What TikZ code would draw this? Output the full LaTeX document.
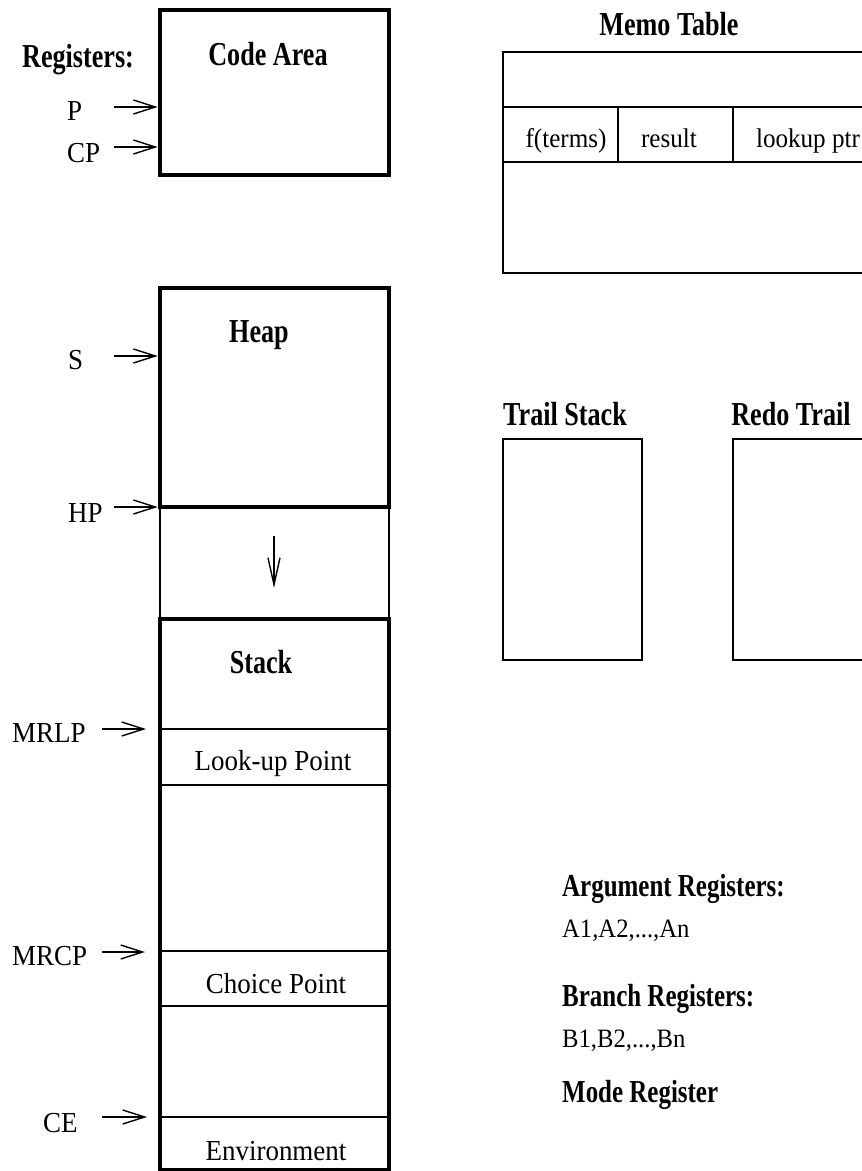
\documentclass[tikz,border=0pt]{standalone}
\usepackage{fontspec}
\setmainfont{Liberation Serif}[FakeStretch=0.93]
\newfontfamily\headfont{Liberation Serif}[FakeStretch=0.78]
\usetikzlibrary{
  arrows.meta
}

\begin{document}
\begin{tikzpicture}[
  x=1pt,
  y=-1pt,
  area/.style={
    draw,
    line width=4.5pt,
    minimum width=229pt,
    inner sep=0pt,
    outer sep=0pt
  },
  tbl/.style={
    draw,
    line width=1.7pt,
    inner sep=0pt,
    outer sep=0pt
  },
  divider/.style={
    line width=1.7pt
  },
  ptr/.style={
    -{Straight Barb[length=22pt,width=14pt]},
    line width=1.4pt
  },
  growarrow/.style={
    -{Straight Barb[length=27pt,width=12pt]},
    line width=1.4pt
  },
  reg/.style={
    font=\fontsize{29}{34}\selectfont,
    inner sep=0pt,
    anchor=base west
  },
  slot/.style={
    font=\fontsize{29}{34}\selectfont,
    inner sep=0pt,
    anchor=base
  },
  cell/.style={
    font=\fontsize{27}{32}\selectfont,
    inner sep=0pt,
    anchor=base
  },
  head/.style={
    font=\headfont\bfseries\fontsize{33.5}{38}\selectfont,
    inner sep=0pt,
    anchor=base
  },
  note/.style={
    font=\fontsize{26.5}{31}\selectfont,
    inner sep=0pt,
    anchor=base west
  },
  notehead/.style={
    font=\headfont\bfseries\fontsize{32}{36}\selectfont,
    inner sep=0pt,
    anchor=base west
  }
]

\path[use as bounding box] (0,0) rectangle (862,1171);
\clip (0,0) rectangle (862,1171);

% --- memory areas ---
\node[area,minimum height=165pt] (code) at (274.5,92.5) {};
\node[area,minimum height=219pt] (heap) at (274.5,397.5) {};
\node[area,minimum height=551pt] (stack) at (274.5,894.5) {};

\node[head] (codeT) at (268,65) {Code Area};
\node[head] (heapT) at (259,342) {Heap};
\node[head] (stackT) at (261,673) {Stack};
\node[head,anchor=base west] (regT) at (22,67) {Registers:};

% free space between heap and stack
\draw[divider] (heap.south west) -- (stack.north west);
\draw[divider] (heap.south east) -- (stack.north east);
\coordinate (growTop) at (274,536);
\coordinate (growBot) at (274,588);
\draw[growarrow] (growTop) -- (growBot);

% --- stack frames ---
\foreach \yy in {729,785,951,1006,1117}
  \draw[divider] (stack.west |- 0,\yy) -- (stack.east |- 0,\yy);

\node[slot] (lookup) at (273,770) {Look-up Point};
\node[slot] (choice) at (276,993) {Choice Point};
\node[slot] (env) at (276,1160) {Environment};

% --- registers pointing into memory ---
\node[reg] (pReg) at (67,120) {P};
\node[reg] (cpReg) at (67,162) {CP};
\node[reg] (sReg) at (68,369) {S};
\node[reg] (hpReg) at (68,522) {HP};
\node[reg] (mrlpReg) at (12,742) {MRLP};
\node[reg] (mrcpReg) at (12,965) {MRCP};
\node[reg] (ceReg) at (43,1132) {CE};

\coordinate (pTail) at (114,107);
\coordinate (cpTail) at (114,147);
\coordinate (sTail) at (114,356);
\coordinate (hpTail) at (114,507);
\coordinate (mrlpTail) at (102,729);
\coordinate (mrcpTail) at (102,952);
\coordinate (ceTail) at (102,1117);

\draw[ptr,shorten >=2.3pt] (pTail) -- (pTail -| code.west);
\draw[ptr,shorten >=2.3pt] (cpTail) -- (cpTail -| code.west);
\draw[ptr,shorten >=2.3pt] (sTail) -- (sTail -| heap.west);
\draw[ptr,shorten >=2.3pt] (hpTail) -- (hpTail -| heap.west);
\draw[ptr,shorten >=14pt] (mrlpTail) -- (mrlpTail -| stack.west);
\draw[ptr,shorten >=15pt] (mrcpTail) -- (mrcpTail -| stack.west);
\draw[ptr,shorten >=13pt] (ceTail) -- (ceTail -| stack.west);

% --- memo table ---
\node[head] (memoT) at (669,35) {Memo Table};
\node[tbl,minimum width=380pt,minimum height=221pt] (memo) at (693,162.5) {};
\draw[divider] (memo.west |- 0,107) -- (memo.east |- 0,107);
\draw[divider] (memo.west |- 0,162) -- (memo.east |- 0,162);
\draw[divider] (618,107) -- (618,162);
\draw[divider] (733,107) -- (733,162);
\node[cell] (fterms) at (566,147) {f(terms)};
\node[cell] (result) at (669,147) {result};
\node[cell] (lkptr) at (808,147) {lookup ptr};

% --- trails ---
\node[head] (trailT) at (565,425) {Trail Stack};
\node[tbl,minimum width=139pt,minimum height=221pt] (trail) at (572.5,549.5) {};
\node[head] (redoT) at (791,425) {Redo Trail};
\node[tbl,minimum width=139pt,minimum height=221pt] (redo) at (802.5,549.5) {};

% --- other registers ---
\node[notehead] (argT) at (562,896) {Argument Registers:};
\node[note] (argL) at (562,937) {A1,A2,...,An};
\node[notehead] (brT) at (562,1006) {Branch Registers:};
\node[note] (brL) at (562,1047) {B1,B2,...,Bn};
\node[notehead] (modeT) at (562,1102) {Mode Register};

\end{tikzpicture}
\end{document}
